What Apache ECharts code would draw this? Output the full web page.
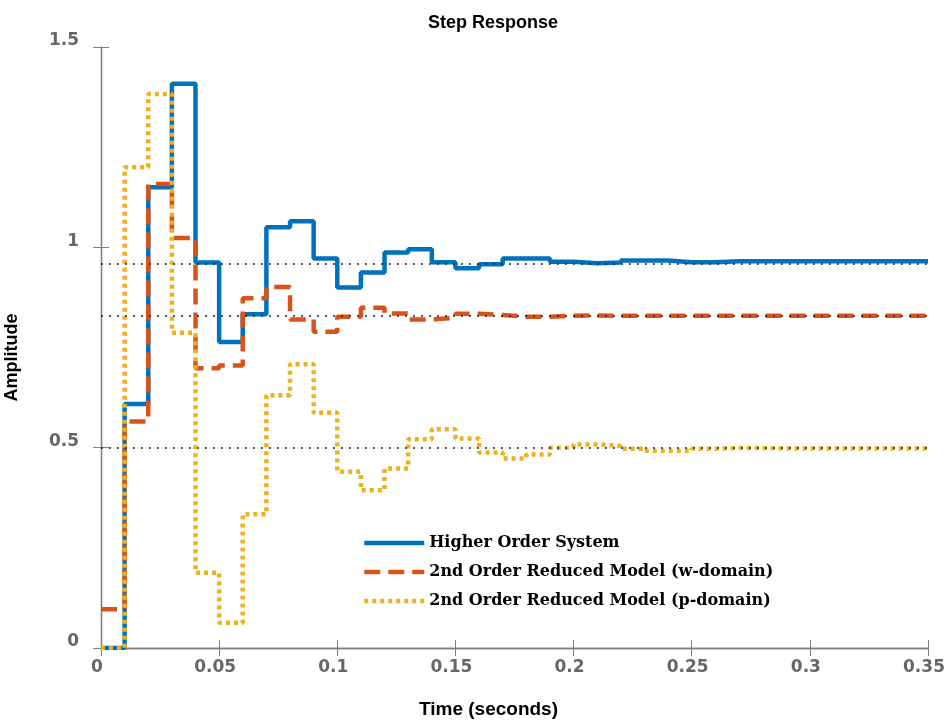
<!DOCTYPE html>
<html>
<head>
<meta charset="utf-8">
<script src="https://cdn.jsdelivr.net/npm/echarts@6/dist/echarts.min.js"></script>
<style>
  html, body { margin: 0; padding: 0; background: #fff; }
  #chart { width: 944px; height: 723px; }
</style>
</head>
<body>
<div id="chart"></div>
<script>
// sample instants (s), sample time 0.01
const time = [0, 0.01, 0.02, 0.03, 0.04, 0.05, 0.06, 0.07, 0.08, 0.09,
    0.10, 0.11, 0.12, 0.13, 0.14, 0.15, 0.16, 0.17, 0.18, 0.19,
    0.20, 0.21, 0.22, 0.23, 0.24, 0.25, 0.26, 0.27, 0.28, 0.29,
    0.30, 0.31, 0.32, 0.33, 0.34, 0.35]

const higherOrder = [0, 0.609, 1.150, 1.408, 0.962, 0.764, 0.833, 1.050, 1.065, 0.972,
    0.900, 0.937, 0.987, 0.995, 0.963, 0.948, 0.958, 0.972, 0.972, 0.964,
    0.960, 0.962, 0.967, 0.967, 0.963, 0.963, 0.965, 0.965, 0.965, 0.965,
    0.965, 0.965, 0.965, 0.965, 0.965, 0.965]

const wDomain = [0.097, 0.565, 1.158, 1.023, 0.698, 0.705, 0.873, 0.901, 0.820, 0.789,
    0.827, 0.849, 0.835, 0.820, 0.824, 0.834, 0.831, 0.827, 0.827, 0.829,
    0.830, 0.829, 0.829, 0.829, 0.829, 0.829, 0.829, 0.829, 0.829, 0.829,
    0.829, 0.829, 0.829, 0.829, 0.829, 0.829]

const pDomain = [0, 1.200, 1.383, 0.787, 0.188, 0.063, 0.334, 0.631, 0.708, 0.587,
    0.440, 0.394, 0.448, 0.521, 0.546, 0.523, 0.488, 0.473, 0.483, 0.500,
    0.508, 0.504, 0.497, 0.492, 0.492, 0.497, 0.499, 0.499, 0.498, 0.498,
    0.498, 0.498, 0.498, 0.498, 0.498, 0.498]

// steady-state values (dotted reference lines)
const finalValues = [0.965, 0.829, 0.498]

const names = ['Higher Order System', '2nd Order Reduced Model (w-domain)', '2nd Order Reduced Model (p-domain)']

const pairs = vals => time.map((t, i) => [t, vals[i]])

const axisGray = '#7f7f7f'
const labelStyle = {
    color: '#666',
    fontFamily: 'DejaVu Sans',
    fontWeight: 'bold',
    fontSize: 17
}

const stepSeries = (name, vals, color, type) => ({
    name: name,
    type: 'line',
    step: 'end',
    symbol: 'none',
    symbolSize: 0,
    silent: true,
    lineStyle: { color: color, width: 4.5, type: type, cap: 'butt' },
    itemStyle: { color: color },
    data: pairs(vals)
})

const myChart = echarts.init(document.querySelector('#chart'))
myChart.setOption({
    animation: false,
    backgroundColor: '#fff',
    title: {
        text: 'Step Response',
        left: 488,
        textAlign: 'center',
        top: 9,
        textStyle: { fontFamily: 'Liberation Sans', fontWeight: 'bold', fontSize: 18, color: '#000' }
    },
    grid: { left: 101, right: 16, top: 47, bottom: 75, outerBoundsMode: 'none', containLabel: false },
    legend: {
        data: names,
        orient: 'vertical',
        left: 357,
        top: 530,
        itemWidth: 60,
        itemHeight: 16,
        itemGap: 13,
        itemStyle: { opacity: 0 },
        lineStyle: { width: 4.5 },
        textStyle: { fontFamily: 'DejaVu Serif', fontWeight: 'bold', fontSize: 16, color: '#000' }
    },
    xAxis: [{
        type: 'value',
        min: 0,
        max: 0.35,
        interval: 0.05,
        name: 'Time (seconds)',
        nameLocation: 'middle',
        nameGap: 52,
        nameTextStyle: { fontFamily: 'Liberation Sans', fontWeight: 'bold', fontSize: 19, color: '#000', padding: [0, 52, 0, 0] },
        axisLine: { lineStyle: { color: axisGray, width: 1.3 } },
        axisTick: { inside: true, length: 8, lineStyle: { color: axisGray } },
        axisLabel: Object.assign({ margin: 11, padding: [0, 8, 0, 0] }, labelStyle),
        splitLine: { show: false }
    }, {
        type: 'value',
        position: 'top',
        min: 0,
        max: 0.35,
        interval: 0.05,
        axisLine: { lineStyle: { color: axisGray, width: 1.3 } },
        axisTick: { inside: true, length: 8, lineStyle: { color: axisGray } },
        axisLabel: { show: false },
        splitLine: { show: false }
    }],
    yAxis: [{
        type: 'value',
        min: 0,
        max: 1.5,
        interval: 0.5,
        name: 'Amplitude',
        nameLocation: 'middle',
        nameGap: 80,
        nameTextStyle: { fontFamily: 'Liberation Sans', fontWeight: 'bold', fontSize: 18, color: '#000', padding: [0, 20, 0, 0] },
        axisLine: { show: true, lineStyle: { color: axisGray, width: 1.3 } },
        axisTick: { show: true, inside: true, length: 8, lineStyle: { color: axisGray } },
        axisLabel: Object.assign({ margin: 22, verticalAlign: 'bottom', lineHeight: 12 }, labelStyle),
        splitLine: { show: false }
    }, {
        type: 'value',
        position: 'right',
        min: 0,
        max: 1.5,
        interval: 0.5,
        axisLine: { show: true, lineStyle: { color: axisGray, width: 1.3 } },
        axisTick: { show: true, inside: true, length: 8, lineStyle: { color: axisGray } },
        axisLabel: { show: false },
        splitLine: { show: false }
    }],
    series: [
        stepSeries(names[0], higherOrder, '#0072BD', 'solid'),
        stepSeries(names[1], wDomain, '#D95319', [16, 8]),
        stepSeries(names[2], pDomain, '#EDB120', [4, 4]),
        {
            name: 'steady state',
            type: 'line',
            data: [],
            silent: true,
            z: 5,
            markLine: {
                symbol: 'none',
                silent: true,
                label: { show: false },
                lineStyle: { color: '#222', width: 1.5, type: [2, 6] },
                data: finalValues.map(v => ({ yAxis: v }))
            }
        }
    ]
})
</script>
</body>
</html>
